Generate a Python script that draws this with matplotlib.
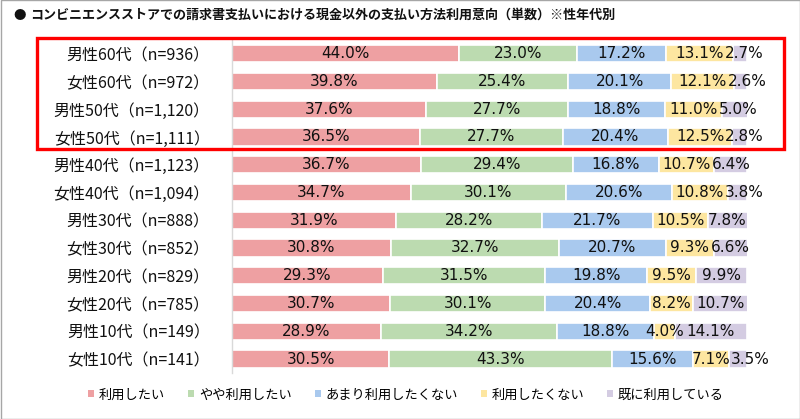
import matplotlib
matplotlib.use("Agg")
import matplotlib.pyplot as plt
from matplotlib.patches import Rectangle, Patch
import numpy as np

plt.rcParams['font.family'] = ['Noto Sans CJK JP', 'DejaVu Sans']

title = "コンビニエンスストアでの請求書支払いにおける現金以外の支払い方法利用意向（単数）※性年代別"
categories = ["男性60代（n=936）", "女性60代（n=972）", "男性50代（n=1,120）", "女性50代（n=1,111）",
              "男性40代（n=1,123）", "女性40代（n=1,094）", "男性30代（n=888）", "女性30代（n=852）",
              "男性20代（n=829）", "女性20代（n=785）", "男性10代（n=149）", "女性10代（n=141）"]
series_names = ["利用したい", "やや利用したい", "あまり利用したくない", "利用したくない", "既に利用している"]
v_want = [44.0, 39.8, 37.6, 36.5, 36.7, 34.7, 31.9, 30.8, 29.3, 30.7, 28.9, 30.5]
v_some = [23.0, 25.4, 27.7, 27.7, 29.4, 30.1, 28.2, 32.7, 31.5, 30.1, 34.2, 43.3]
v_notmuch = [17.2, 20.1, 18.8, 20.4, 16.8, 20.6, 21.7, 20.7, 19.8, 20.4, 18.8, 15.6]
v_not = [13.1, 12.1, 11.0, 12.5, 10.7, 10.8, 10.5, 9.3, 9.5, 8.2, 4.0, 7.1]
v_already = [2.7, 2.6, 5.0, 2.8, 6.4, 3.8, 7.8, 6.6, 9.9, 10.7, 14.1, 3.5]
colors = ["#EEA0A2", "#BCDBB0", "#A9C9EE", "#FDE6A0", "#D4CCE2"]

series = [v_want, v_some, v_notmuch, v_not, v_already]

fig = plt.figure(figsize=(8, 4.19), dpi=100)
ax = fig.add_axes([0.29, 0.11, 0.644, 0.795])

y = np.arange(len(categories))
left = np.zeros(len(categories))
labels = []
for vals, col in zip(series, colors):
    vals = np.array(vals)
    ax.barh(y, vals, left=left, height=0.62, color=col, edgecolor="white", linewidth=1.2)
    row_txt = []
    for yi, (l, v) in enumerate(zip(left, vals)):
        t = ax.text(l + v / 2, yi, f"{v:.1f}%", ha="center", va="center", fontsize=11,
                    family="DejaVu Sans", color="#111111")
        row_txt.append(t)
    labels.append(row_txt)
    left = left + vals

ax.set_xlim(0, 100)
ax.set_ylim(len(categories) - 0.5, -0.5)
ax.set_yticks(y)
ax.set_yticklabels(categories, fontsize=11.5, color="#111111")
ax.tick_params(axis="y", length=0, pad=16)
ax.set_xticks([])
for s in ["top", "right", "bottom"]:
    ax.spines[s].set_visible(False)
ax.spines["left"].set_color("#d9d9d9")
ax.spines["left"].set_linewidth(1)

# nudge the last-segment labels right when they collide with the previous label
fig.canvas.draw()
renderer = fig.canvas.get_renderer()
for yi in range(len(categories)):
    prev = labels[3][yi].get_window_extent(renderer)
    cur_t = labels[4][yi]
    cur = cur_t.get_window_extent(renderer)
    if cur.x0 < prev.x1 + 1:
        new_cx = prev.x1 + 1 + cur.width / 2
        xd, _ = ax.transData.inverted().transform((new_cx, 0))
        cur_t.set_x(xd)

# title
fig.text(13 / 800, 1 - 15 / 419, "●", fontsize=9, va="center", ha="left", color="#111111")
fig.text(30 / 800, 1 - 15 / 419, title, fontsize=9.4, fontweight="bold", va="center", ha="left", color="#111111")

# red highlight box
fig.patches.append(Rectangle((37 / 800, 1 - 149 / 419), (784 - 37) / 800, (149 - 38) / 419,
                             transform=fig.transFigure, fill=False, edgecolor="#ff0000", linewidth=2.4))
# outer border
fig.patches.append(Rectangle((0.5 / 800, 0.5 / 419), 799 / 800, 418 / 419, transform=fig.transFigure,
                             fill=False, edgecolor="#a6a6a6", linewidth=1))

handles = [Patch(facecolor=c, edgecolor="none", label=n) for c, n in zip(colors, series_names)]
fig.legend(handles=handles, loc="center", bbox_to_anchor=(0.5075, 1 - 395 / 419), ncol=5, frameon=False,
           fontsize=9.5, handlelength=0.45, handleheight=0.45, handletextpad=0.35, columnspacing=1.75)

fig.savefig("out.png", dpi=100)
